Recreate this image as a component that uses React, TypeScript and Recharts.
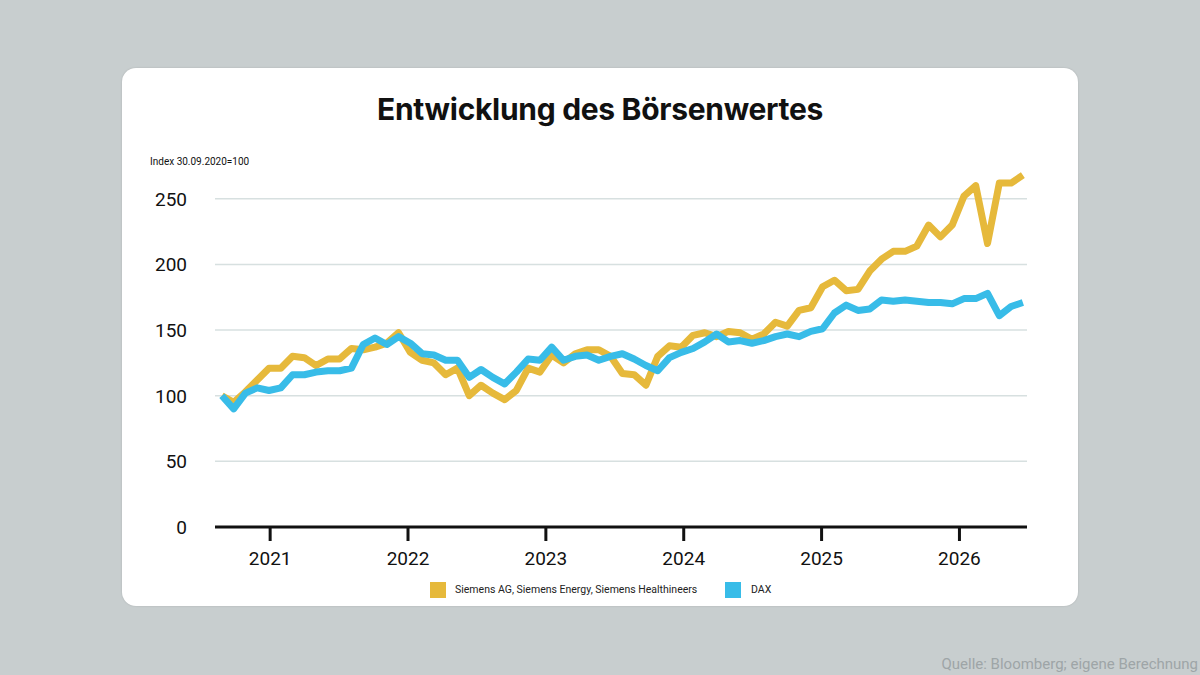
import React from "react";
import { LineChart, Line, XAxis, YAxis, CartesianGrid } from "recharts";

const siemens = [100,95,103,112,121,121,130,129,123,128,128,136,135,137,140,148,133,127,125,116,121,100,108,102,97,104,121,118,131,125,132,135,135,130,117,116,108,130,138,137,146,148,145,149,148,143,147,156,153,165,167,183,188,180,181,195,204,210,210,214,230,221,230,252,260,216,262,262,268];
const dax = [100,90,102,106,104,106,116,116,118,119,119,121,139,144,139,145,140,132,131,127,127,114,120,114,109,118,128,127,137,127,130,131,127,130,132,128,123,119,129,133,136,141,147,141,142,140,142,145,147,145,149,151,163,169,165,166,173,172,173,172,171,171,170,174,174,178,161,168,171,173];
const yTicks = [0, 50, 100, 150, 200, 250];
const xTicks = [2021, 2022, 2023, 2024, 2025, 2026];
const DOM_START = 2020.6, DOM_END = 2026.49;
const START = 2020.65, END = 2026.46;

const data = siemens.map((s, i) => ({
  x: START + (i * (END - START)) / (siemens.length - 1),
  s,
  d: dax[i],
}));

const YTick = (p: any) => (
  <text x={p.x - 20} y={p.y + 7} textAnchor="end" fontSize={19} fill="#111" fontFamily="Roboto, sans-serif">{p.payload.value}</text>
);
const XTick = (p: any) => (
  <g>
    <line x1={p.x} x2={p.x} y1={p.y - 8} y2={p.y + 6} stroke="#111" strokeWidth={3} />
    <text x={p.x} y={p.y + 30} textAnchor="middle" fontSize={19} fill="#111" fontFamily="Roboto, sans-serif">{p.payload.value}</text>
  </g>
);

export default function App() {
  return (
    <div style={{ position: "absolute", left: 0, top: 0, width: 1200, height: 675, background: "#c8cecf", overflow: "hidden", fontFamily: "Roboto, sans-serif" }}>
      <div style={{ position: "absolute", left: 122, top: 68, width: 956, height: 538, background: "#fff", borderRadius: 14, boxShadow: "0 0 2px rgba(0,0,0,0.15)" }} />
      <div style={{ position: "absolute", left: 0, width: 1200, top: 91, textAlign: "center", fontSize: 30, fontWeight: 700, color: "#111", fontFamily: "Inter, sans-serif", letterSpacing: -0.3 }}>Entwicklung des Börsenwertes</div>
      <div style={{ position: "absolute", left: 150, top: 156, fontSize: 10, color: "#111" }}>Index 30.09.2020=100</div>
      <div style={{ position: "absolute", left: 0, top: 0 }}>
        <LineChart width={1200} height={675} data={data} margin={{ top: 166, right: 173, bottom: 118, left: 0 }}>
          <CartesianGrid horizontal vertical={false} stroke="#d7e0e0" strokeWidth={1.5} horizontalValues={yTicks} />
          <XAxis dataKey="x" type="number" domain={[DOM_START, DOM_END]} ticks={xTicks} tick={<XTick />} tickLine={false} axisLine={{ stroke: "#111", strokeWidth: 3 }} height={30} interval={0} />
          <YAxis domain={[0, 275]} ticks={yTicks} tick={<YTick />} tickLine={false} axisLine={false} width={215} interval={0} />
          <Line dataKey="s" stroke="#e6b93b" strokeWidth={7} dot={false} isAnimationActive={false} strokeLinejoin="round" />
          <Line dataKey="d" stroke="#38bce8" strokeWidth={7} dot={false} isAnimationActive={false} strokeLinejoin="round" />
        </LineChart>
      </div>
      <div style={{ position: "absolute", left: 430, top: 582, width: 16, height: 16, background: "#e6b93b" }} />
      <div style={{ position: "absolute", left: 455, top: 583, fontSize: 10.5, color: "#222" }}>Siemens AG, Siemens Energy, Siemens Healthineers</div>
      <div style={{ position: "absolute", left: 725, top: 582, width: 16, height: 16, background: "#38bce8" }} />
      <div style={{ position: "absolute", left: 751, top: 583, fontSize: 10.5, color: "#222" }}>DAX</div>
      <div style={{ position: "absolute", right: 2, top: 655, fontSize: 15, color: "#9ea5a7" }}>Quelle: Bloomberg; eigene Berechnung</div>
    </div>
  );
}
